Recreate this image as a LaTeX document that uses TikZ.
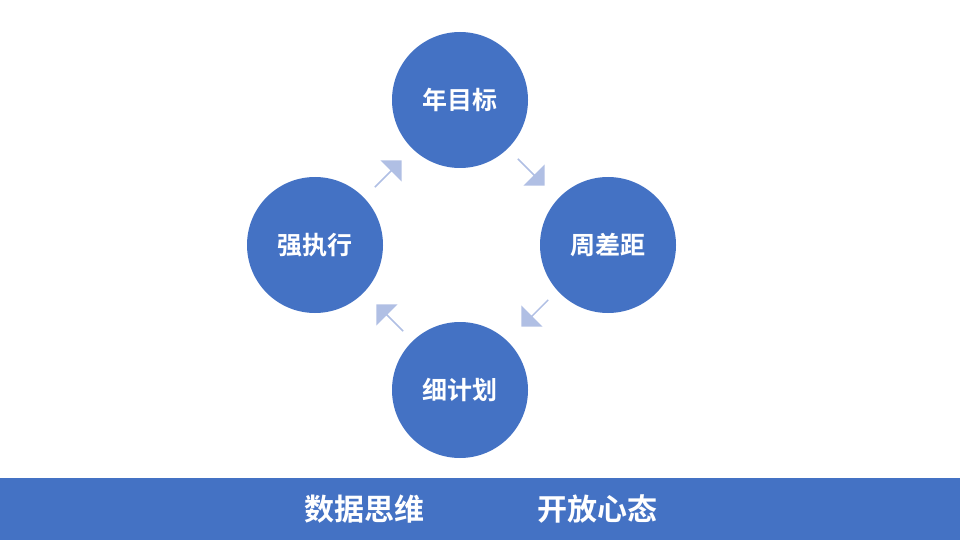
\documentclass[tikz,border=0pt]{standalone}
\usepackage{fontspec}
\newfontfamily\cjk{Noto Sans CJK SC Bold}
\usetikzlibrary{shapes.arrows}
\definecolor{cb}{HTML}{4472C4}
\definecolor{ab}{HTML}{B0BFE4}
\tikzset{circ/.style={circle,fill=cb,minimum size=136pt,inner sep=0pt,text=white,font=\cjk\fontsize{25}{28}\selectfont},
 barr/.style={single arrow,fill=ab,minimum height=38pt,minimum width=30pt,single arrow head extend=4pt,inner sep=0pt},
 bt/.style={text=white,font=\cjk\fontsize{30}{34}\selectfont}}
\begin{document}
\begin{tikzpicture}[x=1pt,y=-1pt]
\useasboundingbox (0,0) rectangle (960,540);
\fill[cb] (0,478) rectangle (960,540);
\node[circ] (t) at (460,100) {年目标};
\node[circ] (r) at (608,245) {周差距};
\node[circ] (b) at (460,390) {细计划};
\node[circ] (l) at (315,245) {强执行};
\node[barr,rotate=-45] (a1) at (531,172) {};
\node[barr,rotate=-135] (a2) at (535,313) {};
\node[barr,rotate=135] (a3) at (390,318) {};
\node[barr,rotate=45] (a4) at (388,174) {};
\node[bt] (s1) at (364,509) {数据思维};
\node[bt] (s2) at (597,509) {开放心态};
\end{tikzpicture}
\end{document}
